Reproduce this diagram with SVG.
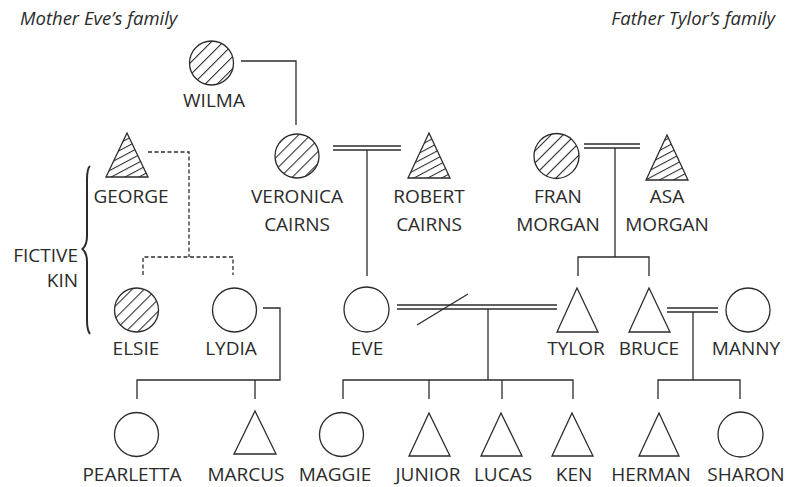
<svg xmlns="http://www.w3.org/2000/svg" width="792" height="487" viewBox="0 0 792 487">
<style>
.sym{fill:none;stroke:#2b2b2b;stroke-width:1.3}
.hc{fill:url(#hatchC);stroke:#2b2b2b;stroke-width:1.3}
.ht{fill:url(#hatchT);stroke:#2b2b2b;stroke-width:1.3}
.ln{fill:none;stroke:#2b2b2b;stroke-width:1.3}
.dash{fill:none;stroke:#2b2b2b;stroke-width:1.3;stroke-dasharray:4,2.5}
.lbl{font-family:"Open Sans","Noto Sans",sans-serif;font-size:19px;fill:#2b2b2b;text-anchor:middle}
.ttl{font-family:"Open Sans","Noto Sans",sans-serif;font-size:18.5px;font-style:italic;fill:#2b2b2b}
</style>
<defs>
<pattern id="hatchC" patternUnits="userSpaceOnUse" width="8.5" height="8.5" patternTransform="rotate(45)">
<rect width="8.5" height="8.5" fill="#fff"/>
<line x1="0.5" y1="0" x2="0.5" y2="8.5" stroke="#2b2b2b" stroke-width="1.1"/>
</pattern>
<pattern id="hatchT" patternUnits="userSpaceOnUse" width="6.5" height="6.5" patternTransform="rotate(-28)">
<rect width="6.5" height="6.5" fill="#fff"/>
<line x1="0" y1="0.5" x2="6.5" y2="0.5" stroke="#2b2b2b" stroke-width="1.1"/>
</pattern>
</defs>
<rect width="792" height="487" fill="#fff"/>

<text class="ttl" x="20" y="25">Mother Eve’s family</text>
<text class="ttl" x="775" y="25" text-anchor="end">Father Tylor’s family</text>

<g id="connectors">
<polyline class="ln" points="241,61 296,61 296,125"/>
<line class="ln" x1="333" y1="146" x2="401" y2="146"/>
<line class="ln" x1="333" y1="150" x2="401" y2="150"/>
<line class="ln" x1="367" y1="150" x2="367" y2="276"/>
<line class="ln" x1="584" y1="144" x2="640" y2="144"/>
<line class="ln" x1="584" y1="148" x2="640" y2="148"/>
<line class="ln" x1="615" y1="148" x2="615" y2="257"/>
<polyline class="ln" points="578,276 578,257 649,257 649,276"/>
<polyline class="dash" points="148,152 189,152 189,257"/>
<polyline class="dash" points="143,275 143,257 233,257 233,275"/>
<polyline class="ln" points="263,308 280,308 280,380 137,380 137,399"/>
<line class="ln" x1="255" y1="380" x2="255" y2="399"/>
<line class="ln" x1="397" y1="305" x2="557" y2="305"/>
<line class="ln" x1="397" y1="309" x2="557" y2="309"/>
<line class="ln" x1="417" y1="325" x2="468" y2="294"/>
<line class="ln" x1="488" y1="309" x2="488" y2="380"/>
<polyline class="ln" points="343,399 343,380 573,380 573,399"/>
<line class="ln" x1="429" y1="380" x2="429" y2="399"/>
<line class="ln" x1="502" y1="380" x2="502" y2="399"/>
<line class="ln" x1="667" y1="308" x2="718" y2="308"/>
<line class="ln" x1="667" y1="312" x2="718" y2="312"/>
<line class="ln" x1="693" y1="312" x2="693" y2="380"/>
<polyline class="ln" points="658,399 658,380 740,380 740,399"/>
</g>

<g id="fictive-kin">
<path d="M90,166 C87.5,168 87,172 87,180 L87,236 C87,243 86,246 82.5,249 C86,252 87,255 87,262 L87,320 C87,328 87.5,331 90,334" fill="none" stroke="#2b2b2b" stroke-width="2"/>
<text class="lbl" x="78" y="262" style="text-anchor:end">FICTIVE</text>
<text class="lbl" x="78" y="287" style="text-anchor:end">KIN</text>
</g>

<g id="wilma"><circle class="hc" cx="211.5" cy="63" r="22"/><text class="lbl" x="214" y="107">WILMA</text></g>
<g id="george"><polygon class="ht" points="127,133 148,177 106,177"/><text class="lbl" x="131" y="203">GEORGE</text></g>
<g id="veronica"><circle class="hc" cx="297" cy="156" r="22"/><text class="lbl" x="297" y="203">VERONICA</text><text class="lbl" x="297" y="231">CAIRNS</text></g>
<g id="robert"><polygon class="ht" points="429,133 450,178 408,178"/><text class="lbl" x="429" y="203">ROBERT</text><text class="lbl" x="429" y="231">CAIRNS</text></g>
<g id="fran"><circle class="hc" cx="556.5" cy="156" r="22.5"/><text class="lbl" x="558" y="203">FRAN</text><text class="lbl" x="558" y="231">MORGAN</text></g>
<g id="asa"><polygon class="ht" points="667,135 688,180 646,180"/><text class="lbl" x="667" y="203">ASA</text><text class="lbl" x="667" y="231">MORGAN</text></g>

<g id="elsie"><circle class="hc" cx="136.5" cy="310" r="22"/><text class="lbl" x="136" y="355">ELSIE</text></g>
<g id="lydia"><circle class="sym" cx="234.5" cy="310" r="22"/><text class="lbl" x="231" y="355">LYDIA</text></g>
<g id="eve"><circle class="sym" cx="366.5" cy="309.5" r="22.5"/><text class="lbl" x="367" y="355">EVE</text></g>
<g id="tylor"><polygon class="sym" points="577,288 598,332 557,332"/><text class="lbl" x="576" y="355">TYLOR</text></g>
<g id="bruce"><polygon class="sym" points="649,288 670,332 629,332"/><text class="lbl" x="649" y="355">BRUCE</text></g>
<g id="manny"><circle class="sym" cx="748" cy="310" r="22"/><text class="lbl" x="746" y="355">MANNY</text></g>

<g id="pearletta"><circle class="sym" cx="136.5" cy="434.5" r="22"/><text class="lbl" x="132" y="481">PEARLETTA</text></g>
<g id="marcus"><polygon class="sym" points="255,411 276,454 234,454"/><text class="lbl" x="246" y="481">MARCUS</text></g>
<g id="maggie"><circle class="sym" cx="341.5" cy="434.5" r="22"/><text class="lbl" x="335" y="481">MAGGIE</text></g>
<g id="junior"><polygon class="sym" points="429,413 450,456 409,456"/><text class="lbl" x="428" y="481">JUNIOR</text></g>
<g id="lucas"><polygon class="sym" points="501,413 522,456 481,456"/><text class="lbl" x="503" y="481">LUCAS</text></g>
<g id="ken"><polygon class="sym" points="572,413 593,456 552,456"/><text class="lbl" x="574" y="481">KEN</text></g>
<g id="herman"><polygon class="sym" points="659,413 679,456 639,456"/><text class="lbl" x="651" y="481">HERMAN</text></g>
<g id="sharon"><circle class="sym" cx="740.5" cy="434.5" r="22.5"/><text class="lbl" x="746" y="481">SHARON</text></g>
</svg>
